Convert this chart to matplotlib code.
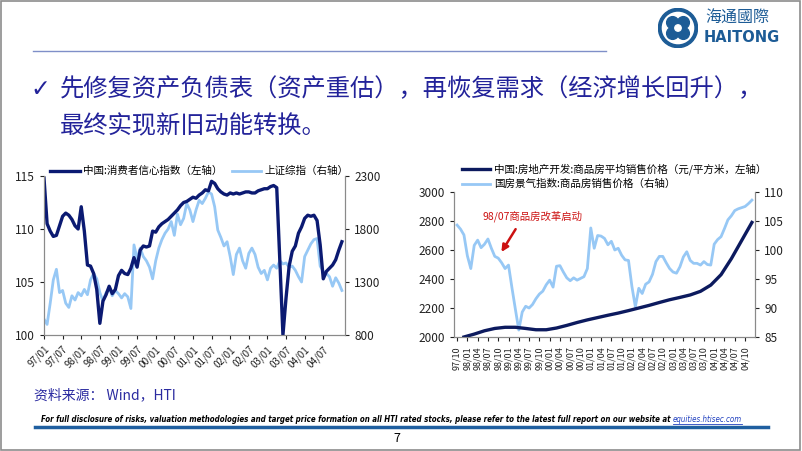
import numpy as np
import matplotlib
matplotlib.use("Agg")
import matplotlib.pyplot as plt
from matplotlib.patches import Rectangle, Circle

plt.rcParams['font.family'] = ['Noto Sans CJK SC', 'DejaVu Sans']

# ---- left chart: consumer confidence (left) & Shanghai composite (right), monthly from 97/01
conf = [114.8, 110.5, 109.8, 109.3, 109.4, 110.3, 111.2, 111.5, 111.3, 110.9,
        110.3, 110.0, 112.1, 109.8, 106.6, 106.5, 105.8, 104.3, 101.1, 103.2,
        103.8, 104.6, 103.9, 104.3, 105.6, 106.1, 105.8, 105.7, 106.3, 107.3,
        106.4, 108.0, 108.4, 108.3, 108.4, 109.8, 109.7, 110.2, 110.5, 110.7,
        110.9, 111.2, 111.5, 111.8, 112.2, 112.5, 112.6, 112.8, 113.0, 112.9,
        113.2, 113.4, 113.7, 113.6, 114.5, 114.3, 113.8, 113.5, 113.3, 113.2,
        113.4, 113.3, 113.4, 113.3, 113.4, 113.5, 113.5, 113.4, 113.4, 113.6,
        113.7, 113.8, 113.8, 114.0, 114.1, 113.9, 107.0, 100.0, 103.5, 106.5,
        107.9, 108.4, 109.6, 110.2, 111.0, 111.3, 111.2, 111.3, 110.8, 108.5,
        105.3, 106.0, 106.3, 106.6, 107.1, 108.0, 108.8]
shindex = [950, 900, 1100, 1320, 1420, 1200, 1220, 1100, 1060, 1170,
           1130, 1200, 1170, 1230, 1180, 1320, 1380, 1330, 1200, 1120,
           1200, 1240, 1170, 1220, 1190, 1150, 1190, 1160, 1050, 1650,
           1520, 1620, 1540, 1500, 1440, 1330, 1500, 1620, 1700, 1760,
           1800, 1870, 1740, 1940, 1840, 1900, 2040, 1980, 1870, 1980,
           2070, 2040, 2090, 2150, 2130, 2010, 1790, 1720, 1640, 1680,
           1540, 1370, 1560, 1620, 1500, 1430, 1570, 1620, 1560, 1440,
           1380, 1410, 1320, 1430, 1460, 1430, 1500, 1470, 1480, 1440,
           1450, 1410, 1350, 1300, 1540, 1600, 1660, 1700, 1710, 1450,
           1400, 1380, 1350, 1260, 1340, 1290, 1220]
left_labels = ['97/01', '97/07', '98/01', '98/07', '99/01', '99/07', '00/01', '00/07',
               '01/01', '01/07', '02/01', '02/07', '03/01', '03/07', '04/01', '04/07']

# ---- right chart: house prices, months from 97/10
price_months = [2, 5, 8, 11, 14, 17, 20, 23, 26, 29, 32, 35, 38, 41, 44, 47, 50,
                53, 56, 59, 62, 65, 68, 71, 74, 77, 80, 83, 86]
price = [2000, 2020, 2043, 2059, 2067, 2067, 2059, 2050, 2050, 2062, 2080, 2100,
         2118, 2134, 2150, 2165, 2182, 2200, 2218, 2238, 2257, 2273, 2290, 2315,
         2358, 2430, 2540, 2665, 2790]
climate = [104.3, 103.6, 102.6, 99.0, 96.8, 100.8, 101.7, 100.4, 101.0, 101.9,
           100.3, 98.9, 98.6, 97.8, 96.8, 97.4, 93.5, 89.8, 86.2, 89.3,
           90.3, 90.0, 90.6, 91.6, 92.4, 92.9, 94.0, 94.8, 93.6, 97.2,
           97.3, 96.2, 95.2, 94.7, 95.2, 94.8, 95.1, 95.4, 96.8, 103.8,
           100.3, 102.5, 102.4, 102.0, 100.9, 101.5, 100.0, 100.3, 99.1, 98.3,
           98.2, 93.7, 90.2, 93.4, 92.5, 94.1, 94.5, 95.8, 98.0, 98.9,
           98.9, 97.8, 96.8, 96.2, 96.0, 97.1, 98.8, 99.7, 98.2, 97.7,
           97.7, 97.4, 98.0, 97.5, 97.4, 101.0, 101.8, 102.3, 103.7, 105.2,
           105.9, 106.8, 107.1, 107.3, 107.5, 108.0, 108.6]
right_labels = ['97/10', '98/01', '98/04', '98/07', '98/10', '99/01', '99/04', '99/07',
                '99/10', '00/01', '00/04', '00/07', '00/10', '01/01', '01/04', '01/07',
                '01/10', '02/01', '02/04', '02/07', '02/10', '03/01', '03/04', '03/07',
                '03/10', '04/01', '04/04', '04/07', '04/10']

W, H = 802, 451
fig = plt.figure(figsize=(W / 100, H / 100), dpi=100)
fig.patch.set_facecolor('white')

def fx(x):
    return x / W

def fy(y):
    return 1 - y / H

# slide frame and header line
fig.patches.append(Rectangle((0.001, 0.002), 0.997, 0.995, transform=fig.transFigure,
                             fill=False, edgecolor='#8c8c8c', lw=1.2))
fig.add_artist(plt.Line2D([fx(33), fx(606)], [fy(51), fy(51)], color='#7f8fc8', lw=1.0))

# logo
lax = fig.add_axes([fx(656), fy(48), fx(44), 40 / H])
lax.set_xlim(-1, 1)
lax.set_ylim(-1, 1)
lax.set_aspect('equal')
lax.axis('off')
lax.add_patch(Circle((0, 0), 0.98, color='#1d5c96'))
lax.add_patch(Circle((0, 0), 0.78, color='white'))
for ang in [45, 135, 225, 315]:
    a = np.deg2rad(ang)
    lax.add_patch(Circle((0.38 * np.cos(a), 0.38 * np.sin(a)), 0.3, color='#1d5c96'))
lax.add_patch(Circle((0, 0), 0.16, color='white'))
fig.text(fx(705), fy(18), '海通國際', fontsize=11.5, color='#1d5c96', va='center', ha='left')
fig.text(fx(704), fy(38), 'HAITONG', fontsize=10.5, color='#1d5c96', va='center', ha='left',
         family='DejaVu Sans', weight='bold')

# heading
hc = '#23239a'
fig.text(fx(30), fy(89), '✓', fontsize=17, color=hc, va='center', family='DejaVu Sans')
fig.text(fx(60), fy(89), '先修复资产负债表（资产重估），再恢复需求（经济增长回升），',
         fontsize=17.5, color=hc, va='center')
fig.text(fx(60), fy(126), '最终实现新旧动能转换。', fontsize=17.5, color=hc, va='center')

dark = '#0b1a72'
light = '#97c8f5'
grey = '#8a8a8a'

def style(ax):
    for s in ['left', 'right', 'bottom']:
        ax.spines[s].set_color(grey)
    ax.spines['top'].set_visible(False)
    ax.tick_params(colors='#222222', length=3, width=0.8)

# ---- left chart
ax1 = fig.add_axes([fx(44), fy(335), fx(301), 159 / H])
ax1b = ax1.twinx()
m = np.arange(len(conf))
ax1b.plot(np.arange(len(shindex)), shindex, color=light, lw=2.0)
ax1.plot(m, conf, color=dark, lw=2.4)
ax1.set_zorder(ax1b.get_zorder() + 1)
ax1.patch.set_visible(False)
ax1.set_xlim(0, 97)
ax1.set_ylim(100, 115)
ax1.set_yticks([100, 105, 110, 115])
ax1b.set_ylim(800, 2300)
ax1b.set_yticks([800, 1300, 1800, 2300])
ax1.set_xticks(np.arange(0, 6 * len(left_labels), 6))
ax1.set_xticklabels(left_labels, rotation=45, ha='right', rotation_mode='anchor', fontsize=7)
ax1.tick_params(axis='y', labelsize=8.5)
ax1b.tick_params(axis='y', labelsize=8.5)
for a in (ax1, ax1b):
    style(a)

fig.add_artist(plt.Line2D([fx(50), fx(80)], [fy(171), fy(171)], color=dark, lw=2.4))
fig.text(fx(83), fy(171), '中国:消费者信心指数（左轴）', fontsize=7.6, va='center')
fig.add_artist(plt.Line2D([fx(232), fx(261)], [fy(171), fy(171)], color=light, lw=2.0))
fig.text(fx(264), fy(171), '上证综指（右轴）', fontsize=7.6, va='center')

# ---- right chart
ax2 = fig.add_axes([fx(454), fy(337), fx(301), 145 / H])
ax2b = ax2.twinx()
ax2b.plot(np.arange(len(climate)), climate, color=light, lw=2.0)
ax2.plot(price_months, price, color='#0c1a5e', lw=2.4)
ax2.set_zorder(ax2b.get_zorder() + 1)
ax2.patch.set_visible(False)
ax2.set_xlim(-0.9, 86.9)
ax2.set_ylim(2000, 3000)
ax2.set_yticks(np.arange(2000, 3001, 200))
ax2b.set_ylim(85, 110)
ax2b.set_yticks(np.arange(85, 111, 5))
ax2.set_xticks(np.arange(0, 3 * len(right_labels), 3))
ax2.set_xticklabels(right_labels, rotation=90, fontsize=6.5)
ax2.tick_params(axis='y', labelsize=8.5)
ax2b.tick_params(axis='y', labelsize=8.5)
for a in (ax2, ax2b):
    style(a)

ax2.annotate('', xy=(12.5, 2570), xytext=(17.5, 2760),
             arrowprops=dict(arrowstyle='-|>', color='#cc1111', lw=1.8, mutation_scale=10))
fig.text(fx(483), fy(216), '98/07商品房改革启动', fontsize=7.5, color='#cc1111', va='center')

fig.add_artist(plt.Line2D([fx(462), fx(490)], [fy(169), fy(169)], color='#0c1a5e', lw=2.4))
fig.text(fx(494), fy(169), '中国:房地产开发:商品房平均销售价格（元/平方米，左轴）', fontsize=7.6, va='center')
fig.add_artist(plt.Line2D([fx(462), fx(490)], [fy(184), fy(184)], color=light, lw=2.0))
fig.text(fx(494), fy(184), '国房景气指数:商品房销售价格（右轴）', fontsize=7.6, va='center')

# footer
fig.text(fx(34), fy(395), '资料来源： Wind，HTI', fontsize=10, color='#2a2aa0', va='center')
foot = ('For full disclosure of risks, valuation methodologies and target price formation on all HTI '
        'rated stocks, please refer to the latest full report on our website at ')
link = 'equities.htisec.com'
r = fig.canvas.get_renderer()
t = fig.text(fx(41), fy(419), foot, fontsize=7, style='italic', weight='bold',
             family='DejaVu Sans', fontstretch='condensed', va='center')
t2 = fig.text(0, fy(419), link, fontsize=7, style='italic', color='#1f3fbf',
              family='DejaVu Sans', fontstretch='condensed', va='center')
w_all = t.get_window_extent(r).width + t2.get_window_extent(r).width
fs = 7 * (742 - 41) / w_all
t.set_fontsize(fs)
t2.set_fontsize(fs)
x_link = 41 + t.get_window_extent(r).width
t2.set_x(fx(x_link))
fig.add_artist(plt.Line2D([fx(x_link), fx(742)], [fy(423.5), fy(423.5)], color='#1f3fbf', lw=0.6))
fig.add_artist(plt.Line2D([fx(35), fx(768)], [fy(427), fy(427)], color='#1f5fa0', lw=2.5))
fig.text(fx(397), fy(438), '7', fontsize=9, va='center', ha='center')

fig.savefig('out.png', dpi=100)
